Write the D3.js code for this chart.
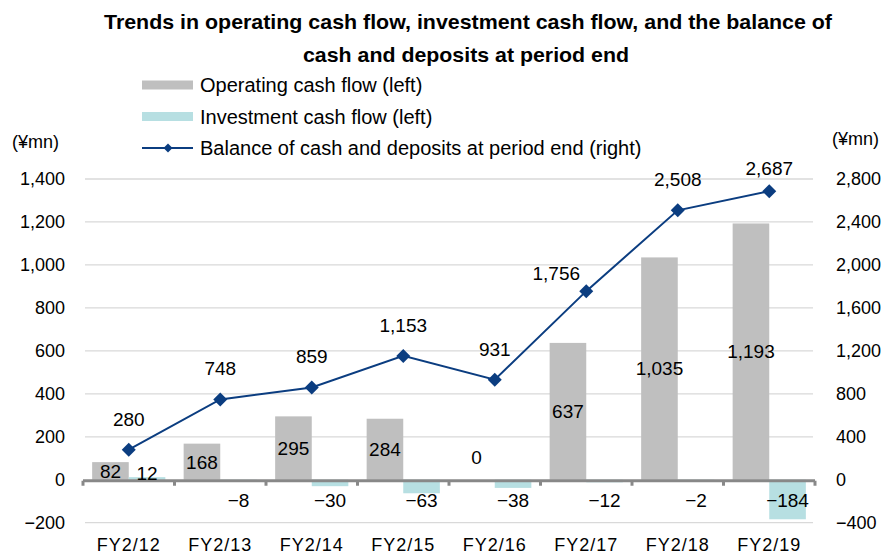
<!DOCTYPE html>
<html>
<head>
<meta charset="utf-8">
<script src="https://cdn.jsdelivr.net/npm/d3@7"></script>
<style>
  html, body { margin: 0; padding: 0; background: #fff; }
  svg { display: block; font-family: "Liberation Sans", Arial, sans-serif; }
</style>
</head>
<body>
<svg id="chart" width="881" height="557"></svg>
<script>
// ---- data ----
const categories = ["FY2/12", "FY2/13", "FY2/14", "FY2/15", "FY2/16", "FY2/17", "FY2/18", "FY2/19"];
const operatingCF = [82, 168, 295, 284, 0, 637, 1035, 1193];
const investmentCF = [12, -8, -30, -63, -38, -12, -2, -184];
const cashBalance = [280, 748, 859, 1153, 931, 1756, 2508, 2687];
const leftTicks = [-200, 0, 200, 400, 600, 800, 1000, 1200, 1400];
const rightTicks = [-400, 0, 400, 800, 1200, 1600, 2000, 2400, 2800];
const titleLines = ["Trends in operating cash flow, investment cash flow, and the balance of",
                    "cash and deposits at period end"];
const legendLabels = ["Operating cash flow (left)", "Investment cash flow (left)",
                      "Balance of cash and deposits at period end (right)"];
// label nudges for the balance line (style only)
const balanceLabelNudge = [[0,0],[0,0],[0,0],[0,0],[0,0],[-30,13],[0,0],[0,8]];

// ---- layout ----
const svg = d3.select("#chart");
const plotL = 83, plotR = 815, plotT = 179, plotB = 522.7;
const colOp = "#bfbfbf", colInv = "#b7dfe2", colLine = "#0b3d80";

const x = d3.scaleBand().domain(categories).range([plotL, plotR]).padding(0);
const xs = d3.scaleBand().domain(["op", "inv"]).range([0, x.bandwidth()]).paddingInner(0).paddingOuter(0.25);
const yL = d3.scaleLinear().domain([-200, 1400]).range([plotB, plotT]);
const yR = d3.scaleLinear().domain([-400, 2800]).range([plotB, plotT]);
const fmt = v => (v < 0 ? "\u2212" : "") + d3.format(",")(Math.abs(v));

// gridlines
svg.append("g").selectAll("line").data(leftTicks.filter(t => t !== 0)).join("line")
  .attr("x1", plotL + 2).attr("x2", plotR - 2)
  .attr("y1", d => yL(d)).attr("y2", d => yL(d))
  .attr("stroke", "#d9d9d9").attr("stroke-width", 1.3);

// left axis labels
const axL = svg.append("g").attr("transform", `translate(65,0)`)
  .call(d3.axisLeft(yL).tickValues(leftTicks).tickSize(0).tickPadding(0).tickFormat(fmt));
axL.select(".domain").remove();
axL.selectAll("text").attr("font-size", 18).attr("fill", "#000")
  .attr("font-family", "'Liberation Sans', Arial, sans-serif");

// right axis labels
const axR = svg.append("g").attr("transform", `translate(836,0)`)
  .call(d3.axisRight(yR).tickValues(rightTicks).tickSize(0).tickPadding(0).tickFormat(fmt));
axR.select(".domain").remove();
axR.selectAll("text").attr("font-size", 18).attr("fill", "#000")
  .attr("font-family", "'Liberation Sans', Arial, sans-serif");

// bars
const bars = svg.append("g");
bars.selectAll("rect.op").data(categories).join("rect").attr("class", "op")
  .attr("x", (c) => x(c) + xs("op")).attr("width", xs.bandwidth())
  .attr("y", (c, i) => Math.min(yL(0), yL(operatingCF[i])))
  .attr("height", (c, i) => Math.abs(yL(operatingCF[i]) - yL(0)))
  .attr("fill", colOp);
bars.selectAll("rect.inv").data(categories).join("rect").attr("class", "inv")
  .attr("x", (c) => x(c) + xs("inv")).attr("width", xs.bandwidth())
  .attr("y", (c, i) => Math.min(yL(0), yL(investmentCF[i])))
  .attr("height", (c, i) => Math.abs(yL(investmentCF[i]) - yL(0)))
  .attr("fill", colInv);

// zero axis line with category ticks
const y0 = yL(0) + 1;
svg.append("line").attr("x1", plotL).attr("x2", plotR).attr("y1", y0).attr("y2", y0)
  .attr("stroke", "#888").attr("stroke-width", 3);
const boundaries = categories.map(c => x(c)).concat([x(categories[categories.length - 1]) + x.bandwidth()]);
svg.append("g").selectAll("line").data(boundaries).join("line")
  .attr("x1", d => d).attr("x2", d => d).attr("y1", y0).attr("y2", y0 + 5)
  .attr("stroke", "#888").attr("stroke-width", 3);

// x labels
svg.append("g").selectAll("text").data(categories).join("text")
  .attr("x", c => x(c) + x.bandwidth() / 2).attr("y", 551)
  .attr("text-anchor", "middle").attr("font-size", 18).attr("letter-spacing", 1)
  .attr("fill", "#000").text(c => c);

// balance line
const cx = c => x(c) + x.bandwidth() / 2;
svg.append("path").datum(categories)
  .attr("d", d3.line().x(c => cx(c)).y((c, i) => yR(cashBalance[i])))
  .attr("fill", "none").attr("stroke", colLine).attr("stroke-width", 2);
svg.append("g").selectAll("path").data(categories).join("path")
  .attr("transform", (c, i) => `translate(${cx(c)},${yR(cashBalance[i])})`)
  .attr("d", "M0,-7L7,0L0,7L-7,0Z").attr("fill", colLine);

// data labels
const lbl = svg.append("g").attr("font-size", 19).attr("fill", "#000").attr("text-anchor", "middle");
lbl.selectAll("text.op").data(categories).join("text").attr("class", "op")
  .attr("x", c => x(c) + xs("op") + xs.bandwidth() / 2)
  .attr("y", (c, i) => operatingCF[i] === 0 ? yL(0) - 23 : (yL(0) + yL(operatingCF[i])) / 2)
  .attr("dy", "0.36em").text((c, i) => fmt(operatingCF[i]));
lbl.selectAll("text.inv").data(categories).join("text").attr("class", "inv")
  .attr("x", c => x(c) + xs("inv") + xs.bandwidth() / 2)
  .attr("y", (c, i) => investmentCF[i] >= 0 ? yL(0) - 7 : yL(0) + 20)
  .attr("dy", "0.36em").text((c, i) => fmt(investmentCF[i]));
lbl.selectAll("text.bal").data(categories).join("text").attr("class", "bal")
  .attr("x", (c, i) => cx(c) + balanceLabelNudge[i][0])
  .attr("y", (c, i) => yR(cashBalance[i]) - 31 + balanceLabelNudge[i][1])
  .attr("dy", "0.36em").text((c, i) => fmt(cashBalance[i]));

// title
svg.append("text").attr("x", 468).attr("y", 29).attr("text-anchor", "middle")
  .attr("font-size", 21).attr("font-weight", "bold")
  .attr("textLength", 728).attr("lengthAdjust", "spacingAndGlyphs").text(titleLines[0]);
svg.append("text").attr("x", 466).attr("y", 62).attr("text-anchor", "middle")
  .attr("font-size", 21).attr("font-weight", "bold")
  .attr("textLength", 326).attr("lengthAdjust", "spacingAndGlyphs").text(titleLines[1]);

// legend
const lg = svg.append("g");
const legY = [85, 116.5, 148];
lg.append("rect").attr("x", 142).attr("y", legY[0] - 4.5).attr("width", 51).attr("height", 9).attr("fill", colOp);
lg.append("rect").attr("x", 142).attr("y", legY[1] - 4.5).attr("width", 51).attr("height", 9).attr("fill", colInv);
lg.append("line").attr("x1", 142).attr("x2", 193).attr("y1", legY[2]).attr("y2", legY[2])
  .attr("stroke", colLine).attr("stroke-width", 2);
lg.append("path").attr("transform", `translate(168,${legY[2]})`).attr("d", "M0,-4.5L4.5,0L0,4.5L-4.5,0Z").attr("fill", colLine);
lg.selectAll("text").data(legendLabels).join("text")
  .attr("x", 200).attr("y", (d, i) => legY[i]).attr("dy", "0.36em")
  .attr("font-size", 20).attr("fill", "#000").text(d => d);

// unit labels
svg.append("text").attr("x", 12).attr("y", 142).attr("dy", "0.36em").attr("font-size", 18).text("(¥mn)");
svg.append("text").attr("x", 879).attr("y", 139).attr("dy", "0.36em").attr("text-anchor", "end").attr("font-size", 18).text("(¥mn)");
</script>
</body>
</html>
